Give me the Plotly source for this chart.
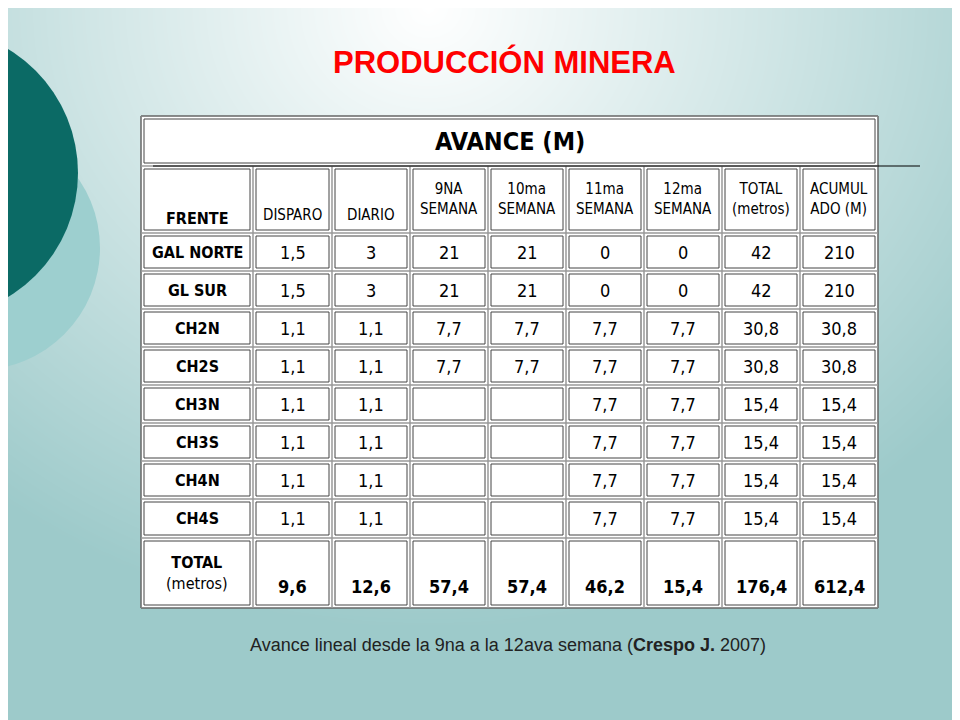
import numpy as np
import plotly.graph_objects as go

frentes = ["GAL NORTE", "GL SUR", "CH2N", "CH2S", "CH3N", "CH3S", "CH4N", "CH4S"]
headers = ["FRENTE", "DISPARO", "DIARIO", "9NA<br>SEMANA", "10ma<br>SEMANA", "11ma<br>SEMANA",
           "12ma<br>SEMANA", "TOTAL<br>(metros)", "ACUMUL<br>ADO (M)"]
disparo = ["1,5", "1,5", "1,1", "1,1", "1,1", "1,1", "1,1", "1,1"]
diario = ["3", "3", "1,1", "1,1", "1,1", "1,1", "1,1", "1,1"]
sem9 = ["21", "21", "7,7", "7,7", "", "", "", ""]
sem10 = ["21", "21", "7,7", "7,7", "", "", "", ""]
sem11 = ["0", "0", "7,7", "7,7", "7,7", "7,7", "7,7", "7,7"]
sem12 = ["0", "0", "7,7", "7,7", "7,7", "7,7", "7,7", "7,7"]
total = ["42", "42", "30,8", "30,8", "15,4", "15,4", "15,4", "15,4"]
acumulado = ["210", "210", "30,8", "30,8", "15,4", "15,4", "15,4", "15,4"]
totales = ["9,6", "12,6", "57,4", "57,4", "46,2", "15,4", "176,4", "612,4"]

col_x = [133, 245, 324, 402, 480, 558, 636, 714, 792, 870]
row_y = [108, 158, 225, 263, 301, 339, 377, 415, 453, 491, 530, 600]
FONT = "DejaVu Sans Condensed, Liberation Sans Narrow, Arial"

fig = go.Figure()

# background gradient
gx = np.linspace(-20, 980, 101)
gy = np.linspace(-20, 740, 77)
X, Y = np.meshgrid(gx, gy)
d = np.sqrt(((X - 420) / 700) ** 2 + ((Y - 0) / 620) ** 2)
fig.add_trace(go.Heatmap(x=gx, y=gy, z=np.clip(d, 0, 1), showscale=False, hoverinfo="skip",
                         colorscale=[[0, "#ffffff"], [0.5, "#cfe5e5"], [1, "#9dcaca"]],
                         zmin=0, zmax=1, zsmooth="best"))

shapes = [
    dict(type="circle", x0=-152, x1=92, y0=118, y1=362, fillcolor="#9dcfcf", line_width=0, layer="above"),
    dict(type="circle", x0=-220, x1=70, y0=20, y1=310, fillcolor="#0b6a65", line_width=0, layer="above"),
    dict(type="rect", x0=col_x[0], x1=col_x[-1], y0=row_y[0], y1=row_y[-1], fillcolor="white",
         line=dict(color="black", width=1), layer="above"),
]

def cell(x0, x1, y0, y1):
    shapes.append(dict(type="rect", x0=x0 + 3, x1=x1 - 3, y0=y0 + 3, y1=y1 - 3,
                       line=dict(color="#444", width=1), layer="above"))
    shapes.append(dict(type="rect", x0=x0, x1=x1, y0=y0, y1=y1,
                       line=dict(color="#999", width=1), layer="above"))

cell(col_x[0], col_x[-1], row_y[0], row_y[1])
for r in range(1, len(row_y) - 1):
    for c in range(len(col_x) - 1):
        cell(col_x[c], col_x[c + 1], row_y[r], row_y[r + 1])
shapes.append(dict(type="line", x0=145, x1=912, y0=row_y[1], y1=row_y[1],
                   line=dict(color="black", width=1), layer="above"))

ann = []
def txt(x, y, s, size=18, bold=False, color="black", font=FONT, **kw):
    ann.append(dict(x=x, y=y, text=f"<b>{s}</b>" if bold else s, showarrow=False,
                    font=dict(family=font, size=size, color=color), **kw))

cx = [(col_x[i] + col_x[i + 1]) / 2 for i in range(len(col_x) - 1)]
txt(sum(col_x[::9]) / 2, 133, "AVANCE (M)", size=25, bold=True)
txt(cx[0], 210, "FRENTE", size=16, bold=True)
for c, h in enumerate(headers[1:], start=1):
    if "<br>" in h:
        txt(cx[c], 191, h, size=15)
    else:
        txt(cx[c], 207, h, size=15)
cols = [disparo, diario, sem9, sem10, sem11, sem12, total, acumulado]
for r, f in enumerate(frentes):
    yc = (row_y[r + 2] + row_y[r + 3]) / 2
    txt(cx[0], yc, f, size=16, bold=True)
    for c, col in enumerate(cols, start=1):
        if col[r]:
            txt(cx[c], yc, col[r], size=18)
txt(cx[0], 565, "<b>TOTAL</b><br>(metros)", size=16)
for c, v in enumerate(totales, start=1):
    txt(cx[c], 578, v, size=18, bold=True)

txt(496, 54, "PRODUCCIÓN MINERA", size=31, bold=True, color="#ff0000", font="Arial")
txt(500, 637, "Avance lineal desde la 9na a la 12ava semana (<b>Crespo J.</b> 2007)",
    size=18, color="#222", font="Arial")

fig.update_layout(width=960, height=720, margin=dict(l=0, r=0, t=0, b=0),
                  shapes=shapes, annotations=ann, plot_bgcolor="white",
                  xaxis=dict(range=[0, 960], visible=False, fixedrange=True),
                  yaxis=dict(range=[720, 0], visible=False, fixedrange=True))
fig.write_html("out.html")
